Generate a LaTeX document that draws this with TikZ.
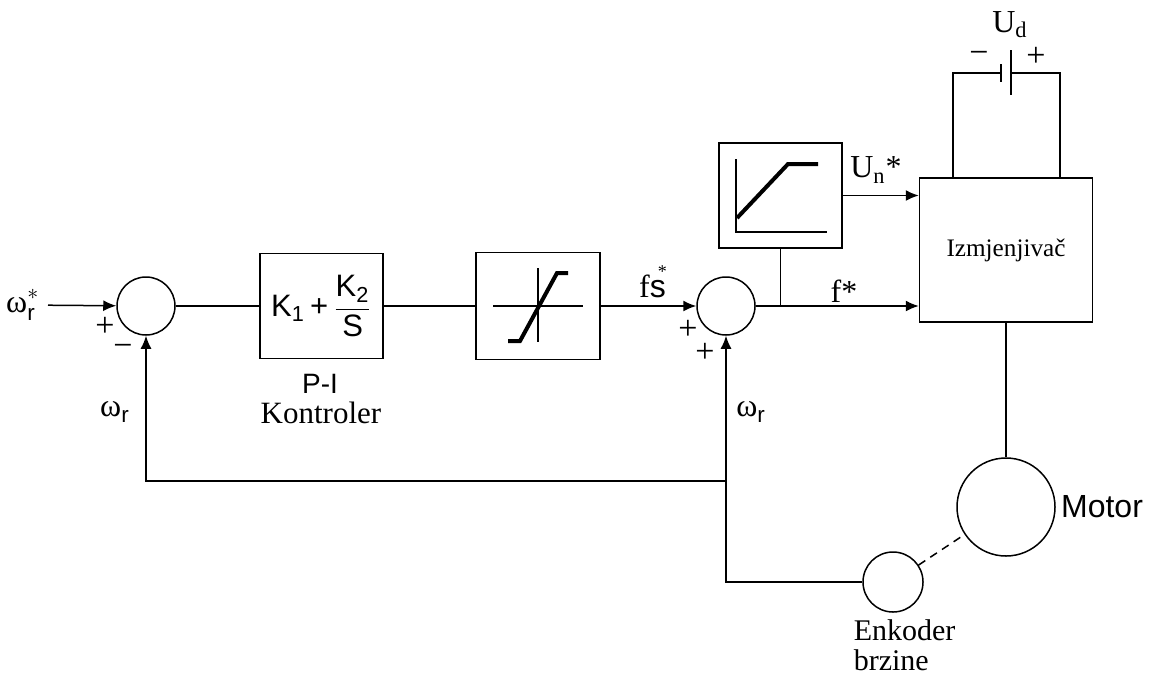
\documentclass[tikz,border=0pt]{standalone}
\usepackage{fontspec}
\usepackage{amsmath}
\setmainfont{Liberation Serif}
\setsansfont{Liberation Sans}
\usetikzlibrary{arrows.meta,calc}
\begin{document}
\begin{tikzpicture}[x=0.5pt,y=-0.5pt,
  line width=0.75pt,
  blk/.style={draw, rectangle, inner sep=0pt},
  sumc/.style={draw, circle, inner sep=0pt, minimum size=29pt},
  arr/.style={-{Latex[length=6.5pt,width=5.5pt]}},
  graphline/.style={line width=2pt},
  lbl/.style={inner sep=0pt, font=\fontsize{16}{18}\selectfont},
  sgn/.style={inner sep=0pt, font=\fontsize{17}{17}\selectfont}]
\useasboundingbox (0,0) rectangle (1149,675);

% blocks
\node[sumc] (s1) at (146,306) {};
\node[blk, minimum width=61.5pt, minimum height=52.5pt] (pi) at (321.5,306)
  {\fontsize{15.5}{18}\selectfont\sffamily $\text{K}_{\text{1}}\text{\,+\,}\dfrac{\text{K}_{\text{2}}}{\text{S}}$};
\node[blk, minimum width=62pt, minimum height=53.5pt] (sat) at (538,306) {};
\node[sumc] (s2) at (726,306) {};
\node[blk, minimum width=61.5pt, minimum height=52.5pt] (ramp) at (780.5,195.5) {};
\node[blk, minimum width=86.5pt, minimum height=72pt, font=\fontsize{12.6}{14}\selectfont] (izm) at (1006,250) {Izmjenjivač};
\node[draw, circle, inner sep=0pt, minimum size=49pt] (mot) at (1006,507) {};
\node[draw, circle, inner sep=0pt, minimum size=30pt] (enc) at (893,582) {};

% saturation graph
\draw (493,306) -- (583,306);
\draw (538,268) -- (538,342);
\draw[graphline] (508,341) -- (520,341) -- (557,273) -- (568,273);
% ramp graph
\draw (736,159) -- (736,232) -- (827,232);
\draw[graphline] (737,218) -- (788,164) -- (818,164);

% labels
\node[lbl, anchor=east, inner xsep=4pt] (win) at (48,305) {ω$^{\ast}_{\textsf{r}}$};
\node[sgn] (p1) at (105,327) {+};
\node[sgn] (m1) at (123,350) {−};
\node[lbl] (wr1) at (115,412) {ω$_{\textsf{r}}$};
\node[inner sep=0pt, font=\fontsize{14}{16}\selectfont\sffamily] (pil) at (320,384) {P-I};
\node[inner sep=0pt, font=\fontsize{15.5}{17}\selectfont] (kon) at (321,413) {Kontroler};
\node[lbl, anchor=base] (fs) at (653,297) {f\textsf{s}\kern-0.25em\raisebox{1.3ex}{\fontsize{9}{9}\selectfont *}};
\node[sgn] (p2) at (688,330) {+};
\node[sgn] (p3) at (705,353) {+};
\node[lbl] (wr2) at (751,412) {ω$_{\textsf{r}}$};
\node[lbl] (fst) at (844,291) {f*};
\node[lbl] (un) at (876,170) {U\textsubscript{n}*};
\node[lbl] (ud) at (1010,25) {U\textsubscript{d}};
\node[sgn] (bm) at (979,57) {−};
\node[sgn] (bpl) at (1036,57) {+};
\node[inner sep=0pt, font=\fontsize{16}{18}\selectfont\sffamily] (motl) at (1102,507) {Motor};
\node[inner sep=0pt, anchor=base west, font=\fontsize{15}{15.5}\selectfont] (enk1) at (853,640) {Enkoder};
\node[inner sep=0pt, anchor=base west, font=\fontsize{15}{15.5}\selectfont] (enk2) at (853,670) {brzine};

% connectors
\draw[arr] (win) -- (s1);
\draw (s1) -- (pi);
\draw (pi) -- (sat);
\draw[arr] (sat) -- (s2);
\draw[arr] (s2.east) -- (izm.west |- s2.east);
\draw (ramp.south |- s2.east) -- (ramp.south);
\draw[arr] (ramp.east) -- (izm.west |- ramp.east);
\draw (izm.south) -- (mot.north);
\draw[dashed, dash pattern=on 4pt off 3pt] (enc) -- (mot);
\draw[arr] (enc.west) -| (s2.south);
\coordinate (fb) at (726,481);
\draw[arr] (fb) -| (s1.south);

% DC source
\coordinate (wl) at (953,178);
\coordinate (wr) at (1060,178);
\coordinate (bn) at (1001,73);
\coordinate (bp) at (1011,73);
\draw (wl) |- (bn);
\draw (wr) |- (bp);
\draw[line width=1pt] (1001,64) -- (1001,82);
\draw (1011,50) -- (1011,95);
\end{tikzpicture}
\end{document}
